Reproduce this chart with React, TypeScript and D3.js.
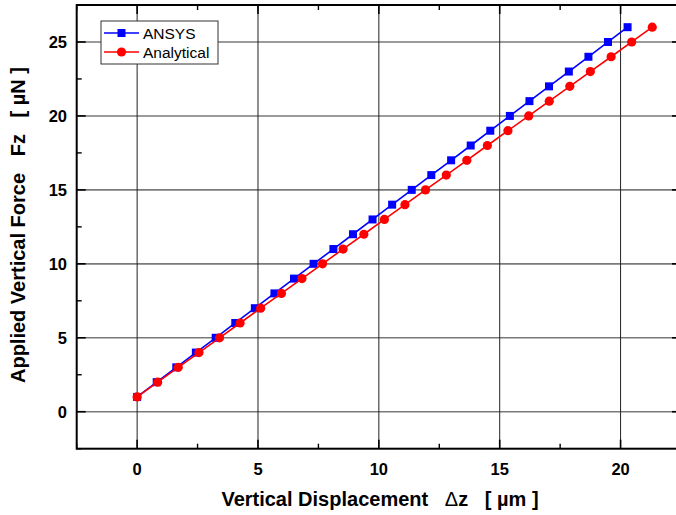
import React from "react";
import * as d3 from "d3";

const forces = [1, 2, 3, 4, 5, 6, 7, 8, 9, 10, 11, 12, 13, 14, 15, 16, 17, 18, 19, 20, 21, 22, 23, 24, 25, 26];
const ansysDz = [0, 0.81, 1.62, 2.43, 3.25, 4.06, 4.87, 5.68, 6.49, 7.3, 8.12, 8.93, 9.74, 10.55, 11.36, 12.17, 12.99, 13.8, 14.61, 15.42, 16.23, 17.04, 17.86, 18.67, 19.48, 20.29];
const analyticalDz = [0, 0.85, 1.7, 2.56, 3.41, 4.26, 5.11, 5.97, 6.82, 7.67, 8.52, 9.38, 10.23, 11.08, 11.93, 12.79, 13.64, 14.49, 15.34, 16.2, 17.05, 17.9, 18.75, 19.61, 20.46, 21.31];
const xTicks = [0, 5, 10, 15, 20];
const yTicks = [0, 5, 10, 15, 20, 25];
const xMinor = [-2.5, 2.5, 7.5, 12.5, 17.5, 22.5];
const yMinor = [-2.5, 2.5, 7.5, 12.5, 17.5, 22.5, 27.5];
const seriesNames = ["ANSYS", "Analytical"];

const W = 676;
const H = 515;
const L = 76.7, R = 681, T = 5, B = 448.7;
const FONT = "'Liberation Sans', Arial, sans-serif";

export default function App() {
  const x = d3.scaleLinear().domain([-2.5, 22.5]).range([L, R]);
  const y = d3.scaleLinear().domain([-2.5, 27.5]).range([B, T]);
  const line = d3.line<[number, number]>().x((d) => x(d[0])).y((d) => y(d[1]));
  const ansys: [number, number][] = ansysDz.map((v, i) => [v, forces[i]]);
  const analytical: [number, number][] = analyticalDz.map((v, i) => [v, forces[i]]);

  const lx = 101, ly = 21, lw = 117, lh = 43;

  return (
    <svg width={W} height={H} style={{ position: "absolute", left: 0, top: 0, background: "#fff" }} fontFamily={FONT}>
      <rect x={0} y={0} width={W} height={H} fill="#fff" />
      {/* gridlines */}
      {yTicks.map((t) => (
        <line key={"gy" + t} x1={L} x2={R} y1={y(t)} y2={y(t)} stroke="#7a7a7a" strokeWidth={1.6} />
      ))}
      {xTicks.map((t) => (
        <line key={"gx" + t} x1={x(t)} x2={x(t)} y1={T} y2={B} stroke="#222" strokeWidth={1} />
      ))}
      {/* ticks */}
      {xTicks.map((t) => (
        <g key={"tx" + t}>
          <line x1={x(t)} x2={x(t)} y1={B} y2={B - 9} stroke="#000" strokeWidth={1.6} />
          <line x1={x(t)} x2={x(t)} y1={T} y2={T + 9} stroke="#000" strokeWidth={1.6} />
        </g>
      ))}
      {xMinor.map((t) => (
        <g key={"mx" + t}>
          <line x1={x(t)} x2={x(t)} y1={B} y2={B - 5} stroke="#000" strokeWidth={1.4} />
          <line x1={x(t)} x2={x(t)} y1={T} y2={T + 5} stroke="#000" strokeWidth={1.4} />
        </g>
      ))}
      {yTicks.map((t) => (
        <g key={"ty" + t}>
          <line x1={L} x2={L + 9} y1={y(t)} y2={y(t)} stroke="#000" strokeWidth={1.6} />
          <line x1={R} x2={R - 9} y1={y(t)} y2={y(t)} stroke="#000" strokeWidth={1.6} />
        </g>
      ))}
      {yMinor.map((t) => (
        <g key={"my" + t}>
          <line x1={L} x2={L + 5} y1={y(t)} y2={y(t)} stroke="#000" strokeWidth={1.4} />
          <line x1={R} x2={R - 5} y1={y(t)} y2={y(t)} stroke="#000" strokeWidth={1.4} />
        </g>
      ))}
      {/* frame */}
      <rect x={L} y={T} width={R - L} height={B - T} fill="none" stroke="#000" strokeWidth={2} />
      {/* tick labels */}
      {xTicks.map((t) => (
        <text key={"lx" + t} x={x(t)} y={475} textAnchor="middle" fontSize={16.5} fontWeight="bold">{t}</text>
      ))}
      {yTicks.map((t) => (
        <text key={"ly" + t} x={67} y={y(t) + 6} textAnchor="end" fontSize={16.5} fontWeight="bold">{t}</text>
      ))}
      {/* series */}
      <path d={line(ansys) || ""} fill="none" stroke="#0000ff" strokeWidth={1.6} />
      {ansys.map((d, i) => (
        <rect key={"sa" + i} x={x(d[0]) - 4} y={y(d[1]) - 4} width={8} height={8} fill="#0000ff" />
      ))}
      <path d={line(analytical) || ""} fill="none" stroke="#ff0000" strokeWidth={1.6} />
      {analytical.map((d, i) => (
        <circle key={"sb" + i} cx={x(d[0])} cy={y(d[1])} r={4.6} fill="#ff0000" />
      ))}
      {/* legend */}
      <rect x={lx} y={ly} width={lw} height={lh} fill="#fff" stroke="#333" strokeWidth={1} />
      <line x1={lx + 3} x2={lx + 38} y1={ly + 12} y2={ly + 12} stroke="#0000ff" strokeWidth={1.6} />
      <rect x={lx + 16.5} y={ly + 8} width={8} height={8} fill="#0000ff" />
      <text x={lx + 42} y={ly + 17.5} fontSize={15.5}>{seriesNames[0]}</text>
      <line x1={lx + 3} x2={lx + 38} y1={ly + 31} y2={ly + 31} stroke="#ff0000" strokeWidth={1.6} />
      <circle cx={lx + 20.5} cy={ly + 31} r={4.6} fill="#ff0000" />
      <text x={lx + 42} y={ly + 36.5} fontSize={15.5}>{seriesNames[1]}</text>
      {/* axis titles */}
      <text x={380} y={506} textAnchor="middle" fontSize={20} fontWeight="bold" style={{ whiteSpace: "pre" }}>
        {"Vertical Displacement   "}
        <tspan fontWeight="normal">{"\u0394"}</tspan>
        {"z   [ \u00b5m ]"}
      </text>
      <text transform="translate(25,225) rotate(-90)" textAnchor="middle" fontSize={20} fontWeight="bold" style={{ whiteSpace: "pre" }}>
        {"Applied Vertical Force   Fz   [ \u00b5N ]"}
      </text>
    </svg>
  );
}
